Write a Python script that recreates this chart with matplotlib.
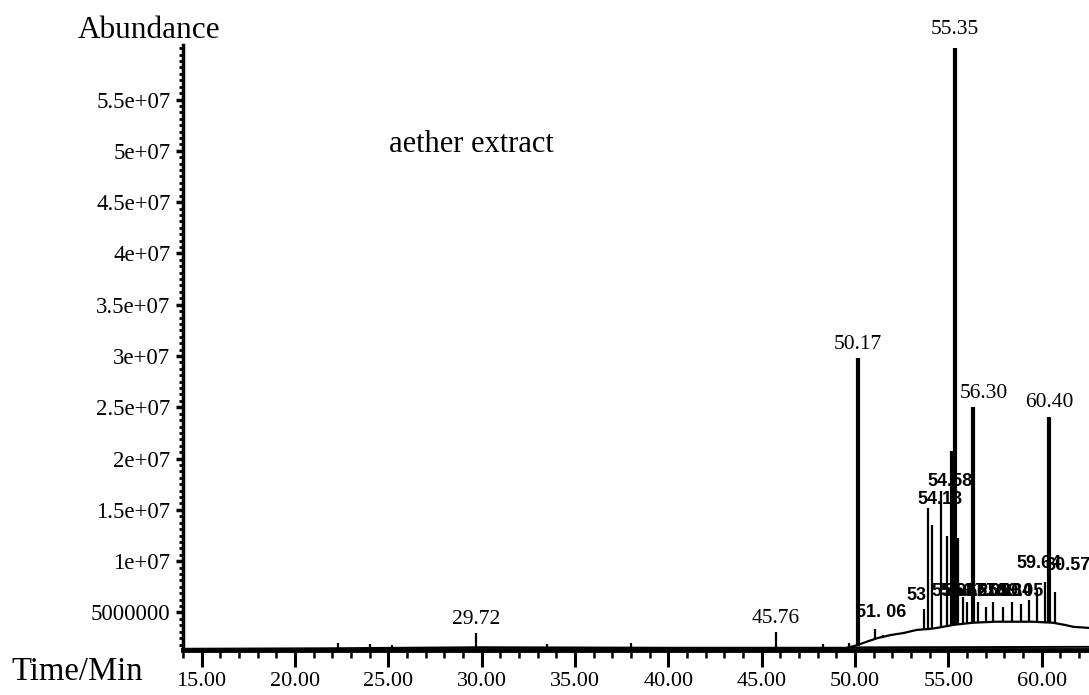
import matplotlib
matplotlib.use('Agg')
import matplotlib.pyplot as plt
from matplotlib.ticker import MultipleLocator, FixedLocator, FixedFormatter, FormatStrFormatter

plt.rcParams['font.family'] = ['Liberation Serif', 'DejaVu Serif']

# baseline / hump of the TIC trace (time in min, abundance)
base_time = [14.0, 22.0, 30.0, 40.0, 49.5, 49.9, 50.4, 50.7, 51.2, 51.9, 52.6,
             53.3, 54.0, 54.4, 55.3, 56.3, 57.5, 58.5, 59.5, 60.6, 61.2, 61.7, 62.5]
base_abund = [1.45e6, 1.5e6, 1.6e6, 1.55e6, 1.55e6, 1.7e6, 2.0e6, 2.2e6, 2.5e6, 2.8e6, 3.0e6,
              3.3e6, 3.4e6, 3.5e6, 3.8e6, 4.0e6, 4.1e6, 4.1e6, 4.1e6, 4.0e6, 3.8e6, 3.6e6, 3.5e6]

# second (blank) trace
blank_time = [49.8, 62.5]
blank_abund = [1.6e6, 1.65e6]

# peaks: retention time, apex, foot
peak_time = [22.3, 24.0, 25.2, 29.72, 33.5, 38.0, 45.76, 48.3, 49.7,
             50.17, 51.06, 51.5, 53.7, 53.93, 54.13, 54.58, 54.9, 55.17, 55.35, 55.5,
             55.8, 56.0, 56.30, 56.6, 57.0, 57.4, 57.9, 58.4, 58.9, 59.3, 59.75, 60.15,
             60.40, 60.7]
peak_top = [2.0e6, 1.9e6, 1.8e6, 3.0e6, 1.9e6, 2.0e6, 3.1e6, 1.9e6, 2.0e6,
            2.98e7, 3.4e6, 2.8e6, 5.3e6, 1.52e7, 1.35e7, 1.68e7, 1.25e7, 2.07e7, 6.0e7, 1.23e7,
            6.5e6, 6.0e6, 2.5e7, 6.0e6, 5.5e6, 6.0e6, 5.5e6, 6.0e6, 5.8e6, 6.2e6, 7.4e6, 8.0e6,
            2.41e7, 7.0e6]
peak_base = [1.5e6, 1.5e6, 1.5e6, 1.6e6, 1.6e6, 1.55e6, 1.55e6, 1.55e6, 1.55e6,
             1.7e6, 2.4e6, 2.6e6, 3.3e6, 3.4e6, 3.4e6, 3.5e6, 3.6e6, 3.7e6, 3.8e6, 3.8e6,
             3.9e6, 4.0e6, 4.0e6, 4.0e6, 4.1e6, 4.1e6, 4.1e6, 4.1e6, 4.1e6, 4.1e6, 4.1e6, 4.0e6,
             4.0e6, 3.9e6]

# labelled peaks (serif)
named_peaks = [29.72, 45.76, 50.17, 55.35, 56.30, 60.40]
named_labels = ['29.72', '45.76', '50.17', '55.35', '56.30', '60.40']

# integration labels printed by the instrument (bold, overlapping)
inst_labels = ['51. 06', '53', '54.58', '54.13', '55.04', '55.66', '56.25', '57.02',
               '57.60', '58.34', '59.05', '59.64', '60.57']
inst_time = [51.4, 53.3, 55.1, 54.55, 55.3, 55.9, 56.5, 57.1, 57.7, 58.3, 58.9, 59.85, 61.4]
inst_abund = [5.0e6, 6.7e6, 1.78e7, 1.6e7, 7.0e6, 7.0e6, 7.0e6, 7.0e6, 7.0e6, 7.0e6, 7.0e6,
              9.8e6, 9.6e6]

ytick_vals = [5e6, 1e7, 1.5e7, 2e7, 2.5e7, 3e7, 3.5e7, 4e7, 4.5e7, 5e7, 5.5e7]
ytick_labels = ['5000000', '1e+07', '1.5e+07', '2e+07', '2.5e+07', '3e+07', '3.5e+07',
                '4e+07', '4.5e+07', '5e+07', '5.5e+07']

fig = plt.figure(figsize=(10.89, 6.95), dpi=100)
ax = fig.add_axes([0.168, 0.065, 0.832, 0.870])

ax.plot(base_time, base_abund, color='black', lw=1.6)
ax.plot(blank_time, blank_abund, color='black', lw=1.4)
widths = [3.0 if h > 2e7 else 1.6 for h in peak_top]
ax.vlines(peak_time, peak_base, peak_top, colors='black', linewidths=widths)

for t, lab in zip(named_peaks, named_labels):
    i = peak_time.index(t)
    dx = 8 if lab == '56.30' else 0
    dy = 7 if lab == '55.35' else 3
    ax.annotate(lab, (t, peak_top[i]), xytext=(dx, dy), textcoords='offset points',
                ha='center', va='bottom', fontsize=15.5, annotation_clip=False)

for t, y, lab in zip(inst_time, inst_abund, inst_labels):
    ax.text(t, y, lab, ha='center', va='center', fontsize=13, fontweight='bold',
            family=['Liberation Sans', 'DejaVu Sans'], color='black')

ax.set_xlim(14.0, 62.53)
ax.set_ylim(1.36e6, 6.03e7)

ax.xaxis.set_major_locator(MultipleLocator(5))
ax.xaxis.set_minor_locator(MultipleLocator(1))
ax.xaxis.set_major_formatter(FormatStrFormatter('%.2f'))
ax.yaxis.set_major_locator(FixedLocator(ytick_vals))
ax.yaxis.set_major_formatter(FixedFormatter(ytick_labels))
ax.yaxis.set_minor_locator(MultipleLocator(625000))

ax.spines['top'].set_visible(False)
ax.spines['right'].set_visible(False)
ax.spines['left'].set_linewidth(2.5)
ax.spines['bottom'].set_linewidth(3.5)

ax.tick_params(axis='x', which='major', length=12, width=2.2, direction='out', labelsize=16, pad=4)
ax.tick_params(axis='x', which='minor', length=6, width=1.8, direction='out')
ax.tick_params(axis='y', which='major', length=5, width=2.5, direction='out', labelsize=16.5, pad=4)
ax.tick_params(axis='y', which='minor', length=3, width=2.0, direction='out')

fig.text(149 / 1089, 1 - 30 / 695, 'Abundance', ha='center', va='center', fontsize=22.5)
fig.text(77 / 1089, 1 - 672 / 695, 'Time/Min', ha='center', va='center', fontsize=23.5)
fig.text(471 / 1089, 1 - 145 / 695, 'aether extract', ha='center', va='center', fontsize=22)

fig.savefig('out.png', dpi=100)
